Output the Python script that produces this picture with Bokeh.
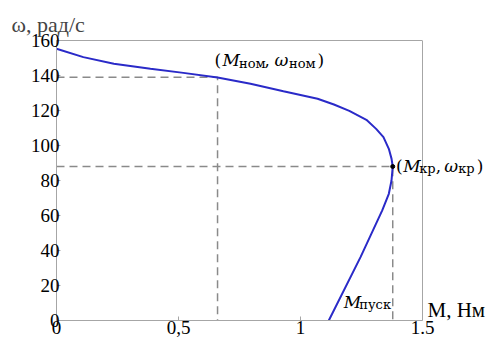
from bokeh.plotting import figure
from bokeh.models import Range1d, FixedTicker, Label, LinearAxis, Span
from bokeh.embed import file_html
from bokeh.resources import INLINE

# ---- data ----
torque = [0.0, 0.11, 0.235, 0.385, 0.52, 0.66, 0.795, 0.93, 1.07, 1.137, 1.2, 1.27, 1.31, 1.34,
          1.362, 1.373, 1.378, 1.373, 1.362, 1.335, 1.246, 1.116]
speed = [155.3, 150.5, 146.7, 143.8, 141.5, 138.8, 135.3, 131.0, 126.7, 123.4, 119.8, 114.7, 109.5, 104.8,
         98.1, 92.5, 88.0, 80.0, 72.4, 62.9, 36.2, 0.0]
M_nom, w_nom = 0.66, 139.0
M_kr, w_kr = 1.378, 88.0
M_pusk = 1.116
X_MAX, Y_MAX = 1.5, 160
x_ticks = [0, 0.5, 1, 1.5]
x_tick_labels = {0: "0", 0.5: "0,5", 1: "1", 1.5: "1.5"}
y_ticks = [0, 20, 40, 60, 80, 100, 120, 140, 160]

GRAY = "#a6a6a6"
DASH = "#8a8a8a"
BLUE = "#2a2ac8"
TICKFONT = "Liberation Serif"
MATHFONT = "DejaVu Serif"

W, H = 489, 342
LEFT, TOP = 56, 40
AX_PX = 366  # pixel length of the drawn M axis (0 .. 1.5)
x_end = X_MAX * (W - LEFT) / AX_PX  # frame extends to the right edge so labels there are not clipped

p = figure(width=W, height=H, output_backend="svg", toolbar_location=None,
           x_range=Range1d(0, x_end), y_range=Range1d(0, Y_MAX),
           min_border_left=LEFT, min_border_right=0, min_border_top=TOP, min_border_bottom=22)
p.grid.visible = False
p.outline_line_color = None
p.background_fill_color = "white"
p.border_fill_color = "white"

for ax in (p.xaxis[0], p.yaxis[0]):
    ax.axis_line_color = GRAY
    ax.major_tick_line_color = GRAY
    ax.major_tick_in = 4
    ax.major_tick_out = 0
    ax.minor_tick_line_color = None
    ax.major_label_text_font = TICKFONT
    ax.major_label_text_font_size = "19px"
    ax.major_label_text_color = "black"

p.xaxis.ticker = FixedTicker(ticks=x_ticks)
p.xaxis.major_label_overrides = x_tick_labels
p.xaxis.major_label_standoff = 0
p.xaxis.bounds = (0, X_MAX)
p.yaxis.ticker = FixedTicker(ticks=y_ticks)
p.yaxis.major_label_standoff = -3

# top edge of the box: an axis with no ticks, bounded to the M range
top_axis = LinearAxis(bounds=(0, X_MAX), ticker=FixedTicker(ticks=[]),
                      axis_line_color=GRAY, major_tick_line_color=None,
                      minor_tick_line_color=None, major_label_text_font_size="0px")
p.add_layout(top_axis, "above")
# right edge of the box
p.add_layout(Span(location=X_MAX, dimension="height", line_color=GRAY, line_width=1))

# y-axis title
p.title.text = "ω, рад/с"
p.title.text_font = TICKFONT
p.title.text_font_size = "22px"
p.title.text_font_style = "normal"
p.title.align = "left"
p.title.offset = -45
p.title.standoff = 8

# dashed guide lines
p.line([0, M_nom, M_nom], [w_nom, w_nom, 0], line_color=DASH, line_width=1.5, line_dash="8 5")
p.line([0, M_kr, M_kr], [w_kr, w_kr, 0], line_color=DASH, line_width=1.5, line_dash="8 5")

# characteristic
p.line(torque, speed, line_color=BLUE, line_width=2)
p.scatter([M_kr], [w_kr], size=4, color="black")


def lab(x, y, dx, dy, text, size="17px", style="normal", font=MATHFONT):
    p.add_layout(Label(x=x, y=y, x_offset=dx, y_offset=dy, text=text,
                       text_font=font, text_font_size=size, text_font_style=style,
                       text_color="black", text_align="left", text_baseline="alphabetic"))


# (M_ном, ω_ном)
lab(M_nom, w_nom, -3, 17, "(")
lab(M_nom, w_nom, 5, 17, "M", style="italic")
lab(M_nom, w_nom, 21.5, 14, "ном", size="13px")
lab(M_nom, w_nom, 47, 17, ",")
lab(M_nom, w_nom, 57, 17, "ω", style="italic")
lab(M_nom, w_nom, 71.5, 14, "ном", size="13px")
lab(M_nom, w_nom, 100, 17, ")")

# (M_кр, ω_кр)
lab(M_kr, w_kr, 3.3, 1, "(")
lab(M_kr, w_kr, 10.5, 1, "M", style="italic")
lab(M_kr, w_kr, 26.5, -2, "кр", size="13px")
lab(M_kr, w_kr, 43, 1, ",")
lab(M_kr, w_kr, 51.5, 1, "ω", style="italic")
lab(M_kr, w_kr, 65.5, -2, "кр", size="13px")
lab(M_kr, w_kr, 84, 1, ")")

# M_пуск
lab(M_pusk, 0, 15, 19, "M", style="italic")
lab(M_pusk, 0, 30.5, 16, "пуск", size="13px")

# M axis title
lab(X_MAX, 0, 5, 11, "M, Нм", size="21px", font=TICKFONT)

open("out.html", "w").write(file_html(p, INLINE))
